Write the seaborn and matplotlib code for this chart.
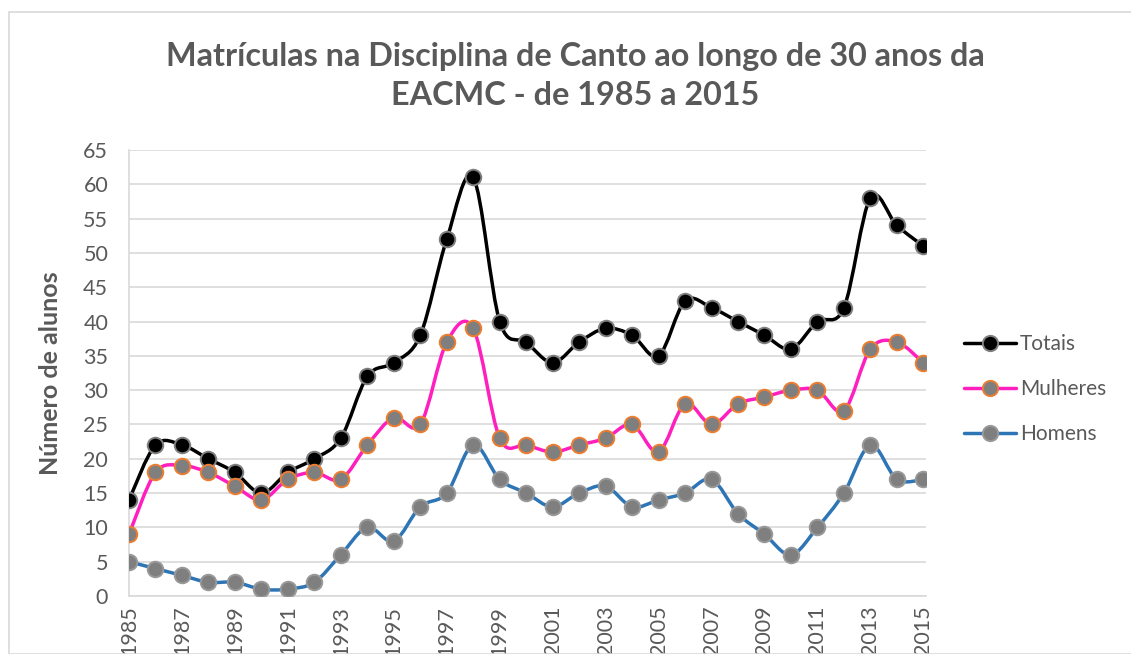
import matplotlib
matplotlib.use("Agg")
import matplotlib.pyplot as plt
from matplotlib.path import Path
from matplotlib.patches import PathPatch, Rectangle
from matplotlib.lines import Line2D
import seaborn as sns
import pandas as pd

years = list(range(1985, 2016))
totais = [14, 22, 22, 20, 18, 15, 18, 20, 23, 32, 34, 38, 52, 61, 40, 37,
          34, 37, 39, 38, 35, 43, 42, 40, 38, 36, 40, 42, 58, 54, 51]
mulheres = [9, 18, 19, 18, 16, 14, 17, 18, 17, 22, 26, 25, 37, 39, 23, 22,
            21, 22, 23, 25, 21, 28, 25, 28, 29, 30, 30, 27, 36, 37, 34]
homens = [5, 4, 3, 2, 2, 1, 1, 2, 6, 10, 8, 13, 15, 22, 17, 15,
          13, 15, 16, 13, 14, 15, 17, 12, 9, 6, 10, 15, 22, 17, 17]

series = [
    ("Totais", totais, "#000000", "#000000", "#7f7f7f"),
    ("Mulheres", mulheres, "#ff1fbf", "#7f7f7f", "#ed7d31"),
    ("Homens", homens, "#2e75b6", "#7f7f7f", "#999999"),
]

title = "Matrículas na Disciplina de Canto ao longo de 30 anos da\nEACMC - de 1985 a 2015"
ylabel = "Número de alunos"
gray = "#595959"


def smooth_path(xs, ys):
    # Excel-like smoothing: cubic Bezier through the points (Catmull-Rom style)
    pts = list(zip(xs, ys))
    verts = [pts[0]]
    codes = [Path.MOVETO]
    n = len(pts)
    for i in range(n - 1):
        p0 = pts[i - 1] if i > 0 else pts[i]
        p1 = pts[i]
        p2 = pts[i + 1]
        p3 = pts[i + 2] if i + 2 < n else pts[i + 1]
        c1 = (p1[0] + (p2[0] - p0[0]) / 6, p1[1] + (p2[1] - p0[1]) / 6)
        c2 = (p2[0] - (p3[0] - p1[0]) / 6, p2[1] - (p3[1] - p1[1]) / 6)
        verts += [c1, c2, p2]
        codes += [Path.CURVE4] * 3
    return Path(verts, codes)


sns.set_style("white")
plt.rcParams["font.family"] = ["Lato", "DejaVu Sans"]

W, H = 1131, 654
fig = plt.figure(figsize=(W / 100, H / 100), dpi=100)
ax = fig.add_axes([129 / W, (H - 596) / H, (926 - 129) / W, (596 - 150) / H])

fig.patches.append(Rectangle((9 / W, 0), 1.2, (H - 12) / H, transform=fig.transFigure,
                             fill=False, edgecolor="#d9d9d9", linewidth=1.2))

handles = []
for name, vals, lc, fc, ec in series:
    df = pd.DataFrame({"ano": years, "n": vals})
    ax.add_patch(PathPatch(smooth_path(years, vals), fill=False, edgecolor=lc,
                           linewidth=2.5, zorder=3, capstyle="round", joinstyle="round"))
    sns.scatterplot(data=df, x="ano", y="n", ax=ax, s=125, color=fc,
                    edgecolor=ec, linewidth=1.4, zorder=4)
    handles.append(Line2D([0], [0], color=lc, linewidth=2.5, marker="o",
                          markersize=11, markerfacecolor=fc, markeredgecolor=ec,
                          markeredgewidth=1.4, label=name))

ax.set_xlim(1985, 2015.1)
ax.set_ylim(0, 65)
ax.set_yticks(range(0, 66, 5))
ax.set_xticks(range(1985, 2016, 2))
ax.set_xticklabels([str(y) for y in range(1985, 2016, 2)], rotation=90)
ax.tick_params(axis="both", length=0, labelsize=15.5, labelcolor=gray)
ax.tick_params(axis="y", pad=15)
ax.tick_params(axis="x", pad=7)
ax.grid(axis="y", color="#d9d9d9", linewidth=1.2)
ax.grid(axis="x", visible=False)
for s in ["top", "right"]:
    ax.spines[s].set_visible(False)
ax.spines["left"].set_color("#d9d9d9")
ax.spines["bottom"].set_color("#d9d9d9")
ax.spines["left"].set_linewidth(1.2)
ax.spines["bottom"].set_linewidth(1.2)
ax.set_xlabel("")
ax.set_ylabel(ylabel, fontsize=18, fontweight="bold", color=gray)
ax.yaxis.set_label_coords((62 - 129) / 797, 0.5)

fig.text(575 / W, 1 - 76 / H, title, ha="center", va="center", fontsize=23.3,
         fontweight="bold", color=gray, linespacing=1.4)

fig.legend(handles=handles, loc="center left", bbox_to_anchor=(964 / W, 1 - 389 / H),
           frameon=False, fontsize=15, labelcolor=gray, handlelength=2.5,
           labelspacing=1.2, handletextpad=0.2, borderpad=0, borderaxespad=0)

fig.savefig("out.png", dpi=100)
